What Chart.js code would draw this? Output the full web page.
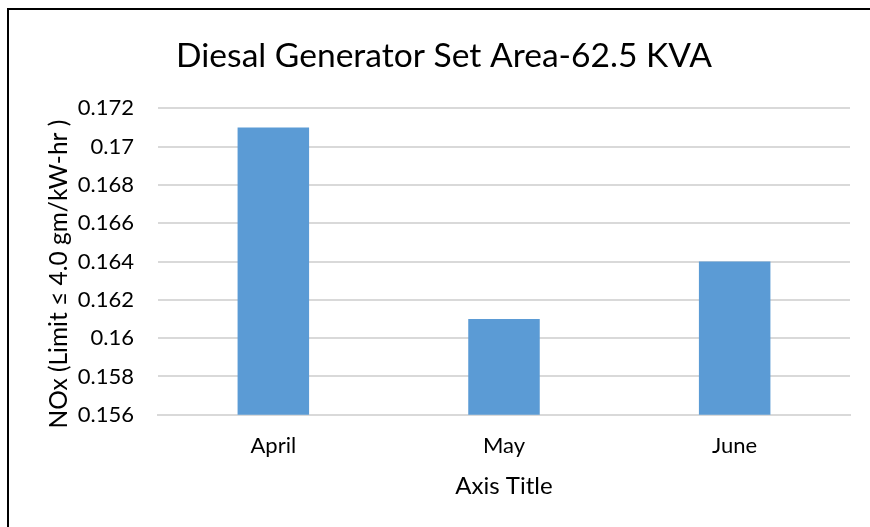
<!DOCTYPE html>
<html>
<head>
<meta charset="utf-8">
<script src="https://cdn.jsdelivr.net/npm/chart.js@4"></script>
<style>
  html, body { margin: 0; padding: 0; background: #fff; }
  #wrap { position: relative; width: 870px; height: 527px; overflow: hidden; }
  #frame { position: absolute; left: 7px; top: 8px; right: -5px; bottom: -5px; border-left: 2px solid #000; border-top: 2px solid #000; }
  canvas { position: absolute; left: 0; top: 0; }
</style>
</head>
<body>
<div id="wrap">
  <canvas id="nox" width="870" height="527"></canvas>
  <div id="frame"></div>
</div>
<script>
// values
const months = ['April', 'May', 'June'];
const noxValues = [0.171, 0.161, 0.164];
const yTicks = [0.156, 0.158, 0.16, 0.162, 0.164, 0.166, 0.168, 0.17, 0.172];

const fontFamily = "Lato, 'Open Sans', sans-serif";

const chart = new Chart(document.getElementById('nox'), {
  type: 'bar',
  data: {
    labels: months,
    datasets: [{
      data: noxValues,
      backgroundColor: '#5b9bd5',
      categoryPercentage: 0.31,
      barPercentage: 1
    }]
  },
  options: {
    responsive: false,
    animation: false,
    layout: { padding: { left: 38, right: 20, top: 36, bottom: 26 } },
    plugins: {
      legend: { display: false },
      tooltip: { enabled: false },
      title: {
        display: true,
        text: 'Diesal Generator Set Area-62.5 KVA',
        color: '#000',
        font: { family: fontFamily, size: 33.6, weight: 'normal' },
        padding: { top: 0, bottom: 32 }
      }
    },
    scales: {
      x: {
        grid: { display: false, drawTicks: false },
        border: { display: true, color: '#d9d9d9', width: 2 },
        ticks: { color: '#000', font: { family: fontFamily, size: 22 }, padding: 18 },
        title: { display: true, text: 'Axis Title', color: '#000', font: { family: fontFamily, size: 24 }, padding: { top: -5, bottom: 0 } }
      },
      y: {
        min: 0.156,
        max: 0.172,
        afterBuildTicks: axis => { axis.ticks = yTicks.map(v => ({ value: v })); },
        afterFit: axis => { axis.width = 120; },
        grid: { color: '#d9d9d9', lineWidth: 2, drawTicks: false },
        border: { display: false },
        ticks: { color: '#000', font: { family: fontFamily, size: 22 }, padding: 24, callback: v => String(+v.toFixed(3)) },
        // trailing spaces nudge the rotated text down a little, as in the original
        title: { display: true, text: 'NOx (Limit ≤ 4.0 gm/kW-hr )    ', color: '#000', font: { family: fontFamily, size: 24.5 }, padding: { top: 6, bottom: 0 } }
      }
    }
  }
});
</script>
</body>
</html>
